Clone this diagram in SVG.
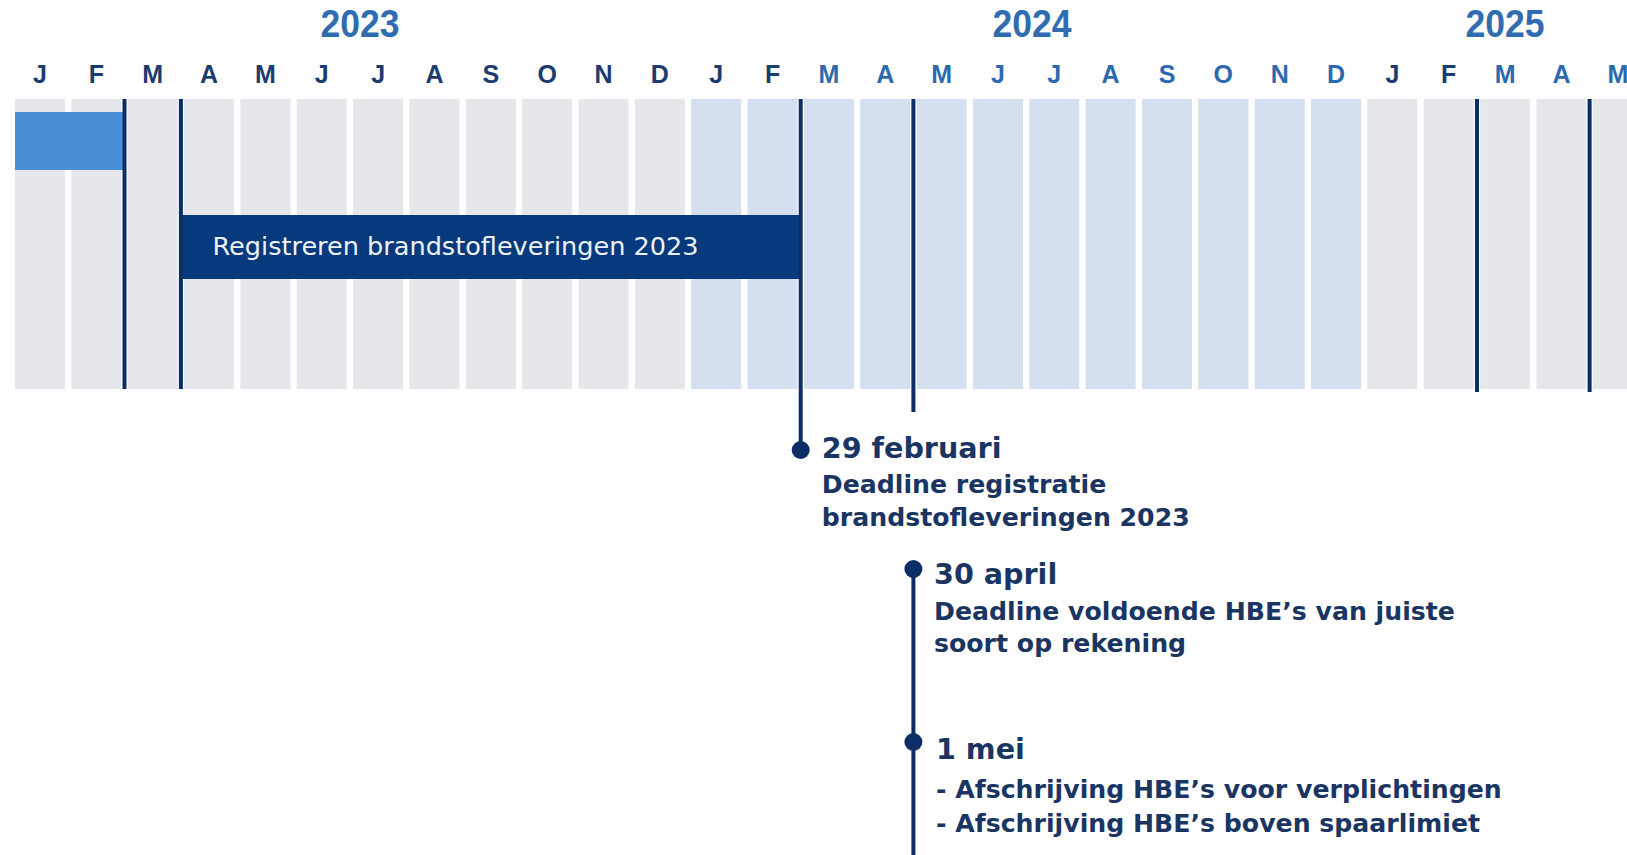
<svg xmlns="http://www.w3.org/2000/svg" width="1627" height="855" viewBox="0 0 1627 855">
<style>
.year{font-family:"Liberation Sans",Arial,sans-serif;font-size:38px;font-weight:bold;fill:#2f6db0;text-anchor:middle}
.mo{font-family:"Liberation Sans",Arial,sans-serif;font-size:25px;font-weight:bold;text-anchor:middle}
.mo.d{fill:#1c3c6e}
.mo.b{fill:#2c6ab0}
.g{fill:#e6e7ea}
.lb{fill:#d4dff0}
.vl{stroke:#0c2d66;stroke-width:4;fill:none}
.dot{fill:#0c2d66}
.h{font-family:"DejaVu Sans",Verdana,sans-serif;font-weight:bold;font-size:28.6px;fill:#1b3563}
.t{font-family:"DejaVu Sans",Verdana,sans-serif;font-weight:bold;font-size:25.2px;fill:#1b3563}
.bar{font-family:"DejaVu Sans",Verdana,sans-serif;font-size:24.5px;fill:#eef2f8}
</style>
<rect width="1627" height="855" fill="#ffffff"/>
<g id="years">
<text class="year" x="360" y="37" textLength="79" lengthAdjust="spacingAndGlyphs">2023</text>
<text class="year" x="1032" y="37" textLength="79" lengthAdjust="spacingAndGlyphs">2024</text>
<text class="year" x="1505" y="37" textLength="79" lengthAdjust="spacingAndGlyphs">2025</text>
</g>
<g id="months">
<text class="mo d" x="40" y="83">J</text>
<text class="mo d" x="96.35" y="83">F</text>
<text class="mo d" x="152.7" y="83">M</text>
<text class="mo d" x="209.05" y="83">A</text>
<text class="mo d" x="265.4" y="83">M</text>
<text class="mo d" x="321.75" y="83">J</text>
<text class="mo d" x="378.1" y="83">J</text>
<text class="mo d" x="434.45" y="83">A</text>
<text class="mo d" x="490.8" y="83">S</text>
<text class="mo d" x="547.15" y="83">O</text>
<text class="mo d" x="603.5" y="83">N</text>
<text class="mo d" x="659.85" y="83">D</text>
<text class="mo d" x="716.2" y="83">J</text>
<text class="mo d" x="772.55" y="83">F</text>
<text class="mo b" x="828.9" y="83">M</text>
<text class="mo b" x="885.25" y="83">A</text>
<text class="mo b" x="941.6" y="83">M</text>
<text class="mo b" x="997.95" y="83">J</text>
<text class="mo b" x="1054.3" y="83">J</text>
<text class="mo b" x="1110.65" y="83">A</text>
<text class="mo b" x="1167" y="83">S</text>
<text class="mo b" x="1223.35" y="83">O</text>
<text class="mo b" x="1279.7" y="83">N</text>
<text class="mo b" x="1336.05" y="83">D</text>
<text class="mo d" x="1392.4" y="83">J</text>
<text class="mo d" x="1448.75" y="83">F</text>
<text class="mo b" x="1505.1" y="83">M</text>
<text class="mo b" x="1561.45" y="83">A</text>
<text class="mo b" x="1617.8" y="83">M</text>
</g>
<g id="columns">
<rect class="g" x="15" y="99" width="50" height="290"/>
<rect class="g" x="71.35" y="99" width="50" height="290"/>
<rect class="g" x="127.7" y="99" width="50" height="290"/>
<rect class="g" x="184.05" y="99" width="50" height="290"/>
<rect class="g" x="240.4" y="99" width="50" height="290"/>
<rect class="g" x="296.75" y="99" width="50" height="290"/>
<rect class="g" x="353.1" y="99" width="50" height="290"/>
<rect class="g" x="409.45" y="99" width="50" height="290"/>
<rect class="g" x="465.8" y="99" width="50" height="290"/>
<rect class="g" x="522.15" y="99" width="50" height="290"/>
<rect class="g" x="578.5" y="99" width="50" height="290"/>
<rect class="g" x="634.85" y="99" width="50" height="290"/>
<rect class="lb" x="691.2" y="99" width="50" height="290"/>
<rect class="lb" x="747.55" y="99" width="50" height="290"/>
<rect class="lb" x="803.9" y="99" width="50" height="290"/>
<rect class="lb" x="860.25" y="99" width="50" height="290"/>
<rect class="lb" x="916.6" y="99" width="50" height="290"/>
<rect class="lb" x="972.95" y="99" width="50" height="290"/>
<rect class="lb" x="1029.3" y="99" width="50" height="290"/>
<rect class="lb" x="1085.65" y="99" width="50" height="290"/>
<rect class="lb" x="1142" y="99" width="50" height="290"/>
<rect class="lb" x="1198.35" y="99" width="50" height="290"/>
<rect class="lb" x="1254.7" y="99" width="50" height="290"/>
<rect class="lb" x="1311.05" y="99" width="50" height="290"/>
<rect class="g" x="1367.4" y="99" width="50" height="290"/>
<rect class="g" x="1423.75" y="99" width="50" height="290"/>
<rect class="g" x="1480.1" y="99" width="50" height="290"/>
<rect class="g" x="1536.45" y="99" width="50" height="290"/>
<rect class="g" x="1592.8" y="99" width="50" height="290"/>
</g>
<g id="bar-prev">
<rect x="15" y="112" width="109.5" height="58" fill="#4a8fd8"/>
</g>
<g id="bar-registreren">
<rect x="180.9" y="215" width="619.8" height="64" fill="#073a7d"/>
<text class="bar" x="212.5" y="255" textLength="486" lengthAdjust="spacingAndGlyphs">Registreren brandstofleveringen 2023</text>
</g>
<g id="connectors">
<line class="vl" x1="124.5" y1="99" x2="124.5" y2="389"/>
<line class="vl" x1="180.9" y1="99" x2="180.9" y2="389"/>
<line class="vl" x1="800.7" y1="99" x2="800.7" y2="450"/>
<line class="vl" x1="913.4" y1="99" x2="913.4" y2="412"/>
<line class="vl" x1="913.4" y1="569" x2="913.4" y2="855"/>
<line class="vl" x1="1477" y1="99" x2="1477" y2="392"/>
<line class="vl" x1="1589.6" y1="99" x2="1589.6" y2="392"/>
</g>
<g id="m-29feb">
<circle class="dot" cx="800.7" cy="450" r="9"/>
<text class="h" x="821.8" y="457.5">29 februari</text>
<text class="t" x="821.8" y="493">Deadline registratie</text>
<text class="t" x="821.8" y="526">brandstofleveringen 2023</text>
</g>
<g id="m-30apr">
<circle class="dot" cx="913.4" cy="569" r="9"/>
<text class="h" x="934" y="584">30 april</text>
<text class="t" x="934" y="619.5">Deadline voldoende HBE’s van juiste</text>
<text class="t" x="934" y="651.5">soort op rekening</text>
</g>
<g id="m-1mei">
<circle class="dot" cx="913.4" cy="742" r="9"/>
<text class="h" x="936" y="758.5">1 mei</text>
<text class="t" x="936" y="798">- Afschrijving HBE’s voor verplichtingen</text>
<text class="t" x="936" y="832">- Afschrijving HBE’s boven spaarlimiet</text>
</g>
</svg>
